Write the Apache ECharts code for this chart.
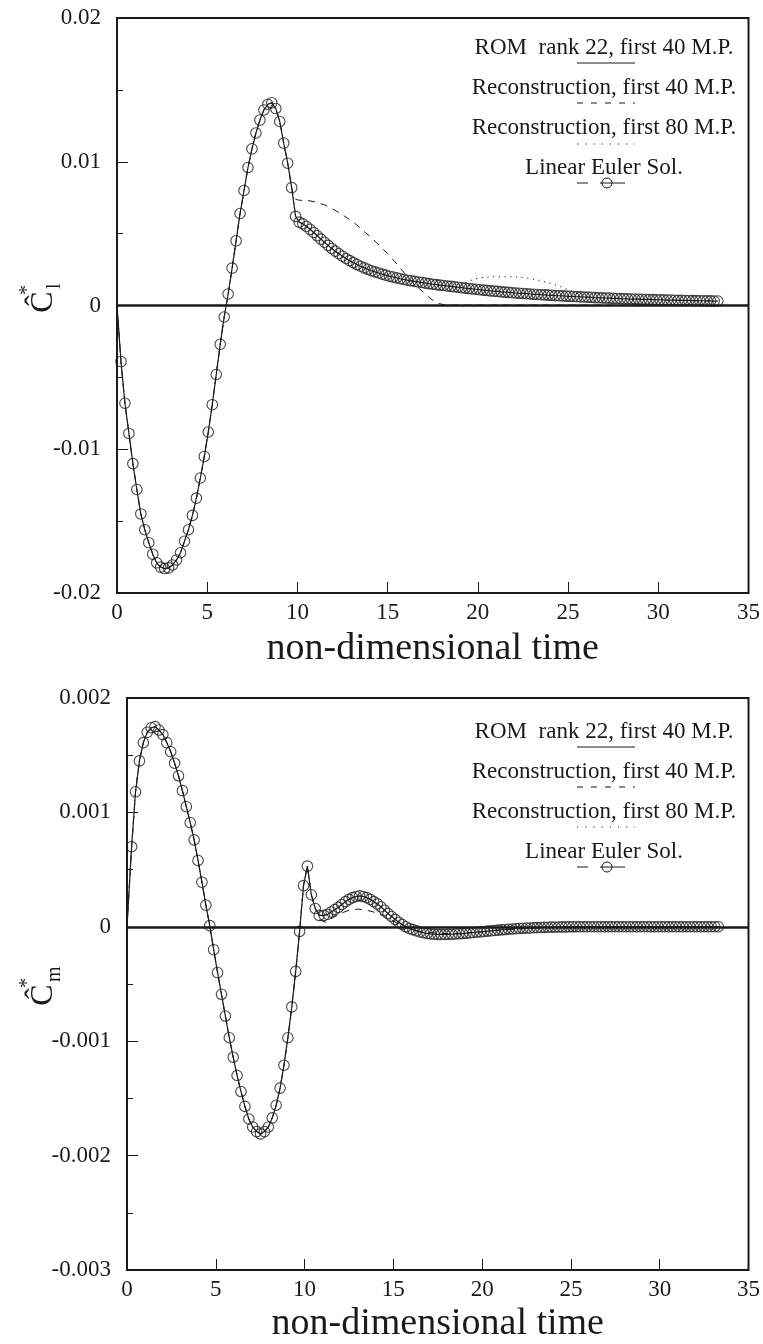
<!DOCTYPE html>
<html><head><meta charset="utf-8">
<script src="https://cdn.jsdelivr.net/npm/echarts@6/dist/echarts.min.js"></script>
<style>html,body{margin:0;padding:0;background:#fff}#c{width:763px;height:1344px}</style>
</head><body><div id="c"></div>
<script>
// ---------------- data ----------------
const X_TICK_LABELS = ['0','5','10','15','20','25','30','35'];
const Y_TOP_LABELS = ['-0.02','-0.01','0','0.01','0.02'];
const Y_BOT_LABELS = ['-0.003','-0.002','-0.001','0','0.001','0.002'];

const LEGEND_TEXTS = ['ROM  rank 22, first 40 M.P.','Reconstruction, first 40 M.P.','Reconstruction, first 80 M.P.','Linear Euler Sol.'];

const T_START = [0];
const CL_START = [0];
const CM_START = [0];

// Cl*: Linear Euler / ROM, coarse part
const T_CL_COARSE = [0.22,0.44,0.66,0.88,1.10,1.32,1.54,1.76,1.98,2.20,
  2.42,2.64,2.86,3.08,3.30,3.52,3.74,3.96,4.18,4.40,
  4.62,4.84,5.06,5.28,5.50,5.72,5.94,6.16,6.38,6.60,
  6.82,7.04,7.26,7.48,7.70,7.92,8.14,8.36,8.58,8.80,
  9.02,9.24,9.46,9.68,9.90];
const CL_COARSE = [-3.9e-3,-6.8e-3,-8.9e-3,-11.0e-3,-12.8e-3,-14.5e-3,-15.6e-3,-16.5e-3,-17.3e-3,-17.9e-3,
  -18.2e-3,-18.3e-3,-18.25e-3,-18.05e-3,-17.7e-3,-17.2e-3,-16.4e-3,-15.6e-3,-14.6e-3,-13.4e-3,
  -12.0e-3,-10.5e-3,-8.8e-3,-6.9e-3,-4.8e-3,-2.7e-3,-0.8e-3,0.8e-3,2.6e-3,4.5e-3,
  6.4e-3,8.0e-3,9.6e-3,10.9e-3,12.0e-3,12.9e-3,13.6e-3,14.0e-3,14.1e-3,13.7e-3,
  12.8e-3,11.3e-3,9.9e-3,8.2e-3,6.2e-3];
// Cl*: dense part
const T_CL_DENSE = [10.1,10.3,10.5,10.7,10.9,11.1,11.3,11.5,11.7,11.9,
  12.1,12.3,12.5,12.7,12.9,13.1,13.3,13.5,13.7,13.9,
  14.1,14.3,14.5,14.7,14.9,15.1,15.3,15.5,15.7,15.9,
  16.1,16.3,16.5,16.7,16.9,17.1,17.3,17.5,17.7,17.9,
  18.1,18.3,18.5,18.7,18.9,19.1,19.3,19.5,19.7,19.9,
  20.1,20.3,20.5,20.7,20.9,21.1,21.3,21.5,21.7,21.9,
  22.1,22.3,22.5,22.7,22.9,23.1,23.3,23.5,23.7,23.9,
  24.1,24.3,24.5,24.7,24.9,25.1,25.3,25.5,25.7,25.9,
  26.1,26.3,26.5,26.7,26.9,27.1,27.3,27.5,27.7,27.9,
  28.1,28.3,28.5,28.7,28.9,29.1,29.3,29.5,29.7,29.9,
  30.1,30.3,30.5,30.7,30.9,31.1,31.3,31.5,31.7,31.9,
  32.1,32.3,32.5,32.7,32.9,33.1,33.3];
const CL_DENSE = [5.80e-3,5.68e-3,5.50e-3,5.30e-3,5.08e-3,4.85e-3,4.62e-3,4.40e-3,4.18e-3,3.97e-3,
  3.78e-3,3.60e-3,3.43e-3,3.27e-3,3.12e-3,2.98e-3,2.85e-3,2.73e-3,2.62e-3,2.52e-3,
  2.42e-3,2.34e-3,2.26e-3,2.18e-3,2.11e-3,2.04e-3,1.98e-3,1.92e-3,1.86e-3,1.81e-3,
  1.76e-3,1.72e-3,1.68e-3,1.64e-3,1.60e-3,1.56e-3,1.52e-3,1.48e-3,1.45e-3,1.42e-3,
  1.39e-3,1.36e-3,1.33e-3,1.30e-3,1.27e-3,1.24e-3,1.21e-3,1.18e-3,1.15e-3,1.13e-3,
  1.10e-3,1.07e-3,1.05e-3,1.02e-3,1.00e-3,0.98e-3,0.95e-3,0.93e-3,0.91e-3,0.89e-3,
  0.87e-3,0.85e-3,0.84e-3,0.82e-3,0.80e-3,0.78e-3,0.77e-3,0.75e-3,0.74e-3,0.72e-3,
  0.71e-3,0.69e-3,0.68e-3,0.67e-3,0.65e-3,0.64e-3,0.63e-3,0.61e-3,0.60e-3,0.59e-3,
  0.58e-3,0.57e-3,0.55e-3,0.54e-3,0.53e-3,0.52e-3,0.51e-3,0.50e-3,0.49e-3,0.48e-3,
  0.47e-3,0.46e-3,0.45e-3,0.45e-3,0.44e-3,0.43e-3,0.42e-3,0.42e-3,0.41e-3,0.40e-3,
  0.40e-3,0.39e-3,0.38e-3,0.38e-3,0.37e-3,0.36e-3,0.36e-3,0.35e-3,0.35e-3,0.34e-3,
  0.34e-3,0.33e-3,0.33e-3,0.32e-3,0.32e-3,0.31e-3,0.31e-3];
// Cl*: reconstruction 40 M.P. (where it leaves the ROM curve)
const T_CL_R40 = [9.80,10.0,10.3,10.7,11.0,11.5,11.9,12.4,12.8,13.3,13.7,14.2,14.6,15.0,15.4,15.8,16.2,16.6,17.0,17.4,17.8,18.2,19.0,21.0,24.0,27.0,30.0,33.3];
const CL_R40 = [7.45e-3,7.35e-3,7.30e-3,7.28e-3,7.20e-3,7.00e-3,6.75e-3,6.40e-3,6.05e-3,5.60e-3,5.15e-3,4.60e-3,4.10e-3,3.60e-3,3.05e-3,2.45e-3,1.85e-3,1.35e-3,0.90e-3,0.45e-3,0.15e-3,0.03e-3,0.02e-3,0.02e-3,0.02e-3,0.02e-3,0.02e-3,0.02e-3];
// Cl*: reconstruction 80 M.P. (bump)
const T_CL_R80 = [19.0,19.3,19.8,20.4,21.0,21.6,22.2,22.8,23.4,24.0,24.6,25.1,25.6,26.1];
const CL_R80 = [1.26e-3,1.55e-3,1.85e-3,1.97e-3,2.00e-3,2.00e-3,1.98e-3,1.90e-3,1.75e-3,1.55e-3,1.30e-3,1.05e-3,0.80e-3,0.58e-3];

// Cm*: coarse part
const T_CM_COARSE = [0.26,0.48,0.70,0.92,1.14,1.36,1.58,1.80,2.02,2.24,
  2.46,2.68,2.90,3.12,3.34,3.56,3.78,4.00,4.22,4.44,
  4.66,4.88,5.10,5.32,5.54,5.76,5.98,6.20,6.42,6.64,
  6.86,7.08,7.30,7.52,7.74,7.96,8.18,8.40,8.62,8.84,
  9.06,9.28,9.50,9.72,9.94,10.16,10.38,10.60,10.82];
const CM_COARSE = [0.70e-3,1.18e-3,1.45e-3,1.61e-3,1.70e-3,1.74e-3,1.75e-3,1.72e-3,1.68e-3,1.61e-3,
  1.53e-3,1.43e-3,1.32e-3,1.19e-3,1.05e-3,0.91e-3,0.76e-3,0.58e-3,0.39e-3,0.19e-3,
  0.01e-3,-0.20e-3,-0.40e-3,-0.59e-3,-0.78e-3,-0.97e-3,-1.14e-3,-1.30e-3,-1.44e-3,-1.57e-3,
  -1.68e-3,-1.75e-3,-1.79e-3,-1.81e-3,-1.79e-3,-1.75e-3,-1.67e-3,-1.56e-3,-1.41e-3,-1.21e-3,
  -0.97e-3,-0.70e-3,-0.39e-3,-0.04e-3,0.36e-3,0.53e-3,0.28e-3,0.16e-3,0.10e-3];
// Cm*: dense part
const T_CM_DENSE = [11.1,11.3,11.5,11.7,11.9,12.1,12.3,12.5,12.7,12.9,
  13.1,13.3,13.5,13.7,13.9,14.1,14.3,14.5,14.7,14.9,
  15.1,15.3,15.5,15.7,15.9,16.1,16.3,16.5,16.7,16.9,
  17.1,17.3,17.5,17.7,17.9,18.1,18.3,18.5,18.7,18.9,
  19.1,19.3,19.5,19.7,19.9,20.1,20.3,20.5,20.7,20.9,
  21.1,21.3,21.5,21.7,21.9,22.1,22.3,22.5,22.7,22.9,
  23.1,23.3,23.5,23.7,23.9,24.1,24.3,24.5,24.7,24.9,
  25.1,25.3,25.5,25.7,25.9,26.1,26.3,26.5,26.7,26.9,
  27.1,27.3,27.5,27.7,27.9,28.1,28.3,28.5,28.7,28.9,
  29.1,29.3,29.5,29.7,29.9,30.1,30.3,30.5,30.7,30.9,
  31.1,31.3,31.5,31.7,31.9,32.1,32.3,32.5,32.7,32.9,
  33.1,33.3];
const CM_DENSE = [0.10e-3,0.11e-3,0.13e-3,0.15e-3,0.17e-3,0.195e-3,0.22e-3,0.24e-3,0.255e-3,0.265e-3,
  0.27e-3,0.265e-3,0.255e-3,0.24e-3,0.22e-3,0.20e-3,0.175e-3,0.145e-3,0.115e-3,0.09e-3,
  0.065e-3,0.04e-3,0.02e-3,0.0,-0.015e-3,-0.025e-3,-0.035e-3,-0.045e-3,-0.052e-3,-0.058e-3,
  -0.062e-3,-0.065e-3,-0.066e-3,-0.067e-3,-0.067e-3,-0.066e-3,-0.065e-3,-0.063e-3,-0.061e-3,-0.059e-3,
  -0.056e-3,-0.053e-3,-0.050e-3,-0.047e-3,-0.044e-3,-0.041e-3,-0.038e-3,-0.035e-3,-0.032e-3,-0.029e-3,
  -0.026e-3,-0.024e-3,-0.021e-3,-0.019e-3,-0.017e-3,-0.015e-3,-0.013e-3,-0.011e-3,-0.010e-3,-0.008e-3,
  -0.007e-3,-0.006e-3,-0.005e-3,-0.004e-3,-0.003e-3,-0.002e-3,-0.002e-3,-0.001e-3,-0.001e-3,0.0,
  0.0,0.0,0.001e-3,0.001e-3,0.001e-3,0.001e-3,0.001e-3,0.001e-3,0.001e-3,0.001e-3,
  0.001e-3,0.001e-3,0.001e-3,0.001e-3,0.001e-3,0.001e-3,0.001e-3,0.001e-3,0.001e-3,0.001e-3,
  0.001e-3,0.001e-3,0.001e-3,0.001e-3,0.001e-3,0.001e-3,0.001e-3,0.001e-3,0.001e-3,0.001e-3,
  0.001e-3,0.001e-3,0.001e-3,0.001e-3,0.001e-3,0.001e-3,0.001e-3,0.001e-3,0.001e-3,0.001e-3,
  0.001e-3,0.001e-3];
// Cm*: reconstruction 40 M.P.
const T_CM_R40 = [10.85,11.2,11.6,12.0,12.5,13.0,13.5,14.0,14.5,15.0,15.5,16.0,16.5,17.0,18.0,19.0,20.0,21.0,22.0,23.0,24.0,25.0,29.0,33.3];
const CM_R40 = [0.06e-3,0.04e-3,0.08e-3,0.115e-3,0.145e-3,0.155e-3,0.145e-3,0.125e-3,0.09e-3,0.05e-3,0.01e-3,-0.02e-3,-0.04e-3,-0.05e-3,-0.06e-3,-0.055e-3,-0.045e-3,-0.03e-3,-0.02e-3,-0.01e-3,-0.005e-3,0.0,0.0,0.0];

// ---------------- build ----------------
function pairs(ts, vs){ return ts.map((t,i)=>[t, vs[i]]); }

const clEuler = pairs(T_CL_COARSE, CL_COARSE).concat(pairs(T_CL_DENSE, CL_DENSE));
const clRom = pairs(T_START, CL_START).concat(clEuler);
const clR40 = clRom.filter(p=>p[0] < T_CL_R40[0]).concat(pairs(T_CL_R40, CL_R40));
const clR80 = clRom.filter(p=>p[0] < T_CL_R80[0]).concat(pairs(T_CL_R80, CL_R80), clRom.filter(p=>p[0] > T_CL_R80[T_CL_R80.length-1]));

const cmEuler = pairs(T_CM_COARSE, CM_COARSE).concat(pairs(T_CM_DENSE, CM_DENSE));
const cmRom = pairs(T_START, CM_START).concat(cmEuler);
const cmR40 = cmRom.filter(p=>p[0] < T_CM_R40[0]).concat(pairs(T_CM_R40, CM_R40));
const cmR80 = cmRom.slice();

const FONT = 'Liberation Serif';
const INK = '#1a1a1a';

const grids = [
  {left:117, top:18, width:635, height:575},
  {left:127, top:698, width:625, height:575}
];

function xAxisCfg(gi, gap){
  return {type:'value', gridIndex:gi, min:0, max:35, interval:5,
    axisLine:{show:false, onZero:false},
    axisTick:{show:true, inside:true, length:11, lineStyle:{color:INK, width:1}},
    splitLine:{show:false},
    axisLabel:{fontFamily:FONT, fontSize:23, color:INK, margin:8, formatter:(v,i)=>X_TICK_LABELS[i]},
    name:'non-dimensional time', nameLocation:'middle', nameGap:gap,
    nameTextStyle:{fontFamily:FONT, fontSize:38, color:INK}};
}
function yAxisCfg(gi, min, max, interval, labels){
  return {type:'value', gridIndex:gi, min:min, max:max, interval:interval,
    axisLine:{show:false, onZero:false},
    axisTick:{show:true, inside:true, length:11, lineStyle:{color:INK, width:1}},
    minorTick:{show:true, splitNumber:2, length:6, lineStyle:{color:INK, width:1}},
    splitLine:{show:false}, minorSplitLine:{show:false},
    axisLabel:{fontFamily:FONT, fontSize:23, color:INK, margin:16, formatter:(v,i)=>labels[i]}};
}

function seriesFor(gi, rom, r40, r80, euler){
  const base = {xAxisIndex:gi, yAxisIndex:gi, animation:false, silent:true};
  return [
    Object.assign({type:'line', name:LEGEND_TEXTS[0], data:rom, showSymbol:false, symbol:'none',
      lineStyle:{color:INK, width:1.2}, z:3,
      markLine:{silent:true, symbol:'none', label:{show:false}, animation:false,
        lineStyle:{color:INK, width:2.5, type:'solid'}, data:[{yAxis:0}]}}, base),
    Object.assign({type:'line', name:LEGEND_TEXTS[1], data:r40, showSymbol:false, symbol:'none',
      lineStyle:{color:INK, width:1, type:[7,6]}, z:2}, base),
    Object.assign({type:'line', name:LEGEND_TEXTS[2], data:r80, showSymbol:false, symbol:'none',
      lineStyle:{color:INK, width:1, type:[1.2,4.5]}, z:2}, base),
    Object.assign({type:'scatter', name:LEGEND_TEXTS[3], data:euler, symbol:'circle', symbolSize:10.5,
      itemStyle:{color:'rgba(0,0,0,0)', borderColor:INK, borderWidth:1.1}, z:4}, base)
  ];
}

function legendGraphics(cx, textYs, sampleYs){
  const els = [];
  const x1 = 577, x2 = 635;
  LEGEND_TEXTS.forEach((t,i)=>{
    els.push({type:'text', x:cx, y:textYs[i], silent:true,
      style:{text:t, fontFamily:FONT, fontSize:23, fill:INK, align:'center', verticalAlign:'middle'}});
  });
  els.push({type:'line', silent:true, shape:{x1:x1,y1:sampleYs[0],x2:x2,y2:sampleYs[0]}, style:{stroke:INK, lineWidth:1}});
  els.push({type:'line', silent:true, shape:{x1:x1,y1:sampleYs[1],x2:x2,y2:sampleYs[1]}, style:{stroke:INK, lineWidth:1, lineDash:[6,8]}});
  els.push({type:'line', silent:true, shape:{x1:x1,y1:sampleYs[2],x2:x2,y2:sampleYs[2]}, style:{stroke:INK, lineWidth:1, lineDash:[1.2,7]}});
  els.push({type:'line', silent:true, shape:{x1:x1,y1:sampleYs[3],x2:588,y2:sampleYs[3]}, style:{stroke:INK, lineWidth:1}});
  els.push({type:'line', silent:true, shape:{x1:600,y1:sampleYs[3],x2:625,y2:sampleYs[3]}, style:{stroke:INK, lineWidth:1}});
  els.push({type:'circle', silent:true, shape:{cx:607,cy:sampleYs[3],r:5}, style:{fill:'rgba(0,0,0,0)', stroke:INK, lineWidth:1}});
  return els;
}

function yTitle(x, y, sub){
  return {type:'group', x:x, y:y, rotation:Math.PI/2, silent:true, children:[
    {type:'text', x:0, y:0, style:{text:'Ĉ', fontFamily:FONT, fontSize:32, fill:INK, align:'center', verticalAlign:'middle'}},
    {type:'text', x:12, y:-16, style:{text:'*', fontFamily:FONT, fontSize:20, fill:INK, align:'center', verticalAlign:'middle'}},
    {type:'text', x:13, y:11, style:{text:sub, fontFamily:FONT, fontSize:20, fill:INK, align:'left', verticalAlign:'middle'}}
  ]};
}

const option = {
  backgroundColor:'#ffffff',
  animation:false,
  grid: grids.map(g=>Object.assign({show:true, borderColor:INK, borderWidth:2, backgroundColor:'rgba(0,0,0,0)', containLabel:false}, g)),
  xAxis:[xAxisCfg(0, 37), xAxisCfg(1, 35)],
  yAxis:[yAxisCfg(0, -0.02, 0.02, 0.01, Y_TOP_LABELS), yAxisCfg(1, -0.003, 0.002, 0.001, Y_BOT_LABELS)],
  series: seriesFor(0, clRom, clR40, clR80, clEuler).concat(seriesFor(1, cmRom, cmR40, cmR80, cmEuler)),
  graphic: [].concat(
    legendGraphics(604, [48,88,128,168], [63,103,144,183]),
    legendGraphics(604, [732,772,812,852], [747,787,827,867]),
    [yTitle(44, 302, 'l'), yTitle(44, 995, 'm')]
  )
};

const chart = echarts.init(document.getElementById('c'), null, {renderer:'canvas'});
chart.setOption(option);
</script></body></html>
